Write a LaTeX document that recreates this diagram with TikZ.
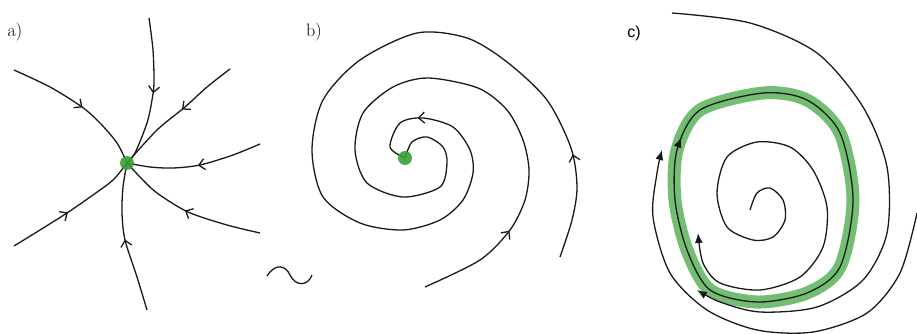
\documentclass[tikz,border=0pt]{standalone}
\usepackage{fontspec}
\usepackage{xcolor}
\usepackage{tikz}
\usetikzlibrary{arrows.meta,decorations.markings}
\newfontfamily\labelsans{Liberation Sans}
\definecolor{dotgreen}{RGB}{55,160,55}
\definecolor{bandgreen}{RGB}{115,190,115}

\begin{document}
\begin{tikzpicture}[x=1pt,y=-1pt,
  traj/.style={line width=1.3pt,black!90},
  barb/.style={postaction={decorate,decoration={markings,
      mark=at position #1 with {\arrow{Straight Barb[length=6pt,width=11pt,line width=1.3pt]}}}}},
  fullarrow/.style={postaction={decorate,decoration={markings,
      mark=at position #1 with {\arrow{Latex[length=10pt,width=8pt]}}}}},
  lbl/.style={font=\fontsize{18}{21}\selectfont}]
  \useasboundingbox (0,0) rectangle (917,334);

  % a) stable node
  \node[lbl] (la) at (15,32) {a)};
  \draw[traj,barb=0.5]  plot[smooth] coordinates {(149,18) (153,50) (154,83) (152,100) (147,123) (135,153) (127,163)};
  \draw[traj,barb=0.52] plot[smooth] coordinates {(14,70) (50,87) (82,107) (100,123) (117,143) (127,163)};
  \draw[traj,barb=0.45] plot[smooth] coordinates {(230,69) (207,87) (185,107) (157,130) (127,163)};
  \draw[traj,barb=0.48] plot[smooth] coordinates {(260,144) (233,155) (200,165) (173,168) (150,167) (127,163)};
  \draw[traj,barb=0.51] plot[smooth] coordinates {(260,233) (227,225) (188,212) (157,193) (140,177) (127,163)};
  \draw[traj,barb=0.49] plot[smooth] coordinates {(147,310) (137,277) (125,240) (122,213) (123,187) (127,163)};
  \draw[traj,barb=0.45] plot[smooth] coordinates {(14,246) (40,230) (67,213) (93,195) (113,180) (127,163)};
  \fill[dotgreen,opacity=0.9] (127,163) circle[radius=7pt];

  % b) stable focus
  \node[lbl] (lb) at (314,32) {b)};
  \draw[traj,barb=0.12,barb=0.927] plot[smooth] coordinates {(560,257) (572,220) (577,187) (571,148) (547,100)
    (507,62) (467,38) (417,33) (360,60) (323,100) (312,150) (323,197) (360,223) (403,230) (440,220)
    (463,200) (473,173) (470,150) (453,127) (423,118) (400,123) (390,147) (405,158)};
  \draw[traj,barb=0.16] plot[smooth] coordinates {(425,287) (480,260) (510,230) (525,200) (529,170) (523,140)
    (507,110) (478,88) (428,78) (393,87) (363,113) (355,150) (367,183) (403,197) (440,187)
    (447,163) (443,147) (427,137) (412,142) (405,158)};
  \fill[dotgreen,opacity=0.9] (405,158) circle[radius=7pt];
  \draw[traj] (267,276) .. controls (276,262) and (286,266) .. (290,275)
    .. controls (296,287) and (308,286) .. (312,275);

  % c) limit cycle
  \node[lbl,font=\fontsize{16}{19}\labelsans] (lc) at (634,33) {c)};
  \draw[line width=13pt,bandgreen] plot[smooth cycle] coordinates {(687,250) (675,200) (677,150) (700,110)
    (763,93) (807,100) (840,133) (853,200) (840,267) (807,293) (757,302) (710,290)};
  \draw[traj,fullarrow=0.1] plot[smooth cycle] coordinates {(687,250) (675,200) (677,150) (700,110)
    (763,93) (807,100) (840,133) (853,200) (840,267) (807,293) (757,302) (710,290)};
  \draw[traj,-{Latex[length=10pt,width=8pt]}] plot[smooth] coordinates {(750,210) (757,193) (770,188) (783,200)
    (785,220) (773,237) (753,240) (727,227) (717,193) (727,157) (757,142) (790,147) (813,170)
    (827,207) (823,247) (800,277) (760,290) (720,283) (703,263) (698,233)};
  \draw[traj,-{Latex[length=10pt,width=8pt]}] plot[smooth] coordinates {(672,13) (750,23) (817,53) (863,107)
    (887,167) (887,233) (863,280) (817,307) (760,312) (720,302) (697,290)};
  \draw[traj,-{Latex[length=10pt,width=8pt]}] plot[smooth] coordinates {(917,213) (900,273) (867,313) (813,332)
    (757,330) (707,310) (670,273) (653,217) (657,173) (662,150)};
\end{tikzpicture}
\end{document}
